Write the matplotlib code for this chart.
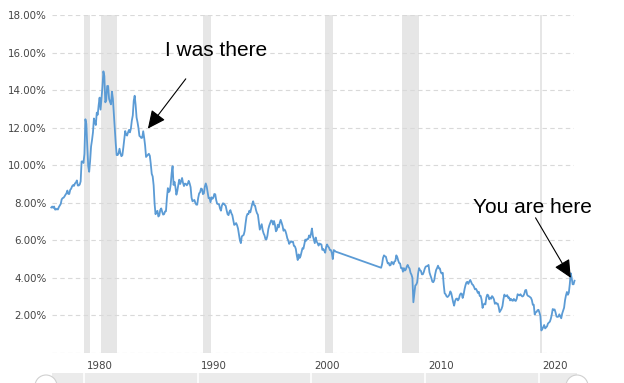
import numpy as np
import matplotlib
matplotlib.use("Agg")
import matplotlib.pyplot as plt
from matplotlib.patches import Rectangle, Ellipse
from matplotlib.lines import Line2D
from matplotlib.transforms import ScaledTranslation, blended_transform_factory

# -------------------------------- Configurations --------------------------------
W_PX, H_PX, DPI = 624, 383, 100
LINE_COLOR = "#5b9bd5"
BAND_COLOR = "#e6e6e6"
GRID_COLOR = "#d9d9d9"
TEXT_COLOR = "#444444"
# --------------------------------------------------------------------------------

# monthly 30-year treasury yield (%)
Y_1977_1979 = [  # Feb 1977 - Dec 1979
    7.75, 7.80, 7.73, 7.80, 7.64, 7.64, 7.68, 7.64, 7.77, 7.85, 7.94,
    8.18, 8.25, 8.27, 8.34, 8.43, 8.50, 8.65, 8.47, 8.47, 8.69, 8.75, 8.88,
    8.94, 8.90, 9.03, 9.08, 9.19, 8.92, 8.92, 8.97, 9.14, 10.20, 10.20, 10.12,
]
Y_1980S = [
    10.60, 12.45, 12.20, 11.00, 9.95, 9.65, 10.24, 11.00, 11.34, 11.75, 12.49, 12.29,
    12.14, 12.80, 12.69, 13.20, 13.60, 12.96, 13.59, 14.17, 15.00, 14.75, 13.35, 13.45,
    14.22, 14.22, 13.53, 13.37, 13.24, 13.92, 13.55, 12.77, 12.07, 11.17, 10.54, 10.54,
    10.63, 10.88, 10.63, 10.48, 10.53, 10.93, 11.40, 11.82, 11.63, 11.58, 11.75, 11.88,
    11.75, 11.95, 12.38, 12.65, 13.43, 13.70, 13.21, 12.54, 12.29, 11.98, 11.56, 11.52,
    11.45, 11.47, 11.81, 11.47, 11.05, 10.44, 10.50, 10.56, 10.61, 10.50, 10.06, 9.54,
    9.40, 8.93, 7.96, 7.39, 7.52, 7.57, 7.27, 7.33, 7.62, 7.70, 7.52, 7.37,
    7.39, 7.54, 7.55, 8.25, 8.78, 8.57, 8.64, 8.97, 9.59, 9.95, 8.95, 9.12,
    8.83, 8.43, 8.63, 8.95, 9.23, 9.00, 9.14, 9.32, 9.06, 8.89, 9.02, 9.01,
    8.93, 9.01, 9.17, 9.03, 8.83, 8.27, 8.08, 8.12, 8.15, 8.00, 7.90, 7.90,
]
Y_1990S = [
    8.26, 8.50, 8.56, 8.76, 8.73, 8.46, 8.50, 8.86, 9.03, 8.86, 8.54, 8.24,
    8.27, 8.03, 8.29, 8.21, 8.27, 8.47, 8.45, 8.14, 7.95, 7.93, 7.92, 7.70,
    7.58, 7.85, 7.97, 7.96, 7.89, 7.84, 7.60, 7.39, 7.34, 7.53, 7.61, 7.44,
    7.34, 7.09, 6.82, 6.85, 6.92, 6.81, 6.63, 6.32, 6.00, 5.85, 6.21, 6.25,
    6.29, 6.49, 6.91, 7.27, 7.41, 7.40, 7.58, 7.49, 7.71, 7.94, 8.08, 7.87,
    7.85, 7.61, 7.45, 7.36, 6.95, 6.57, 6.72, 6.86, 6.55, 6.37, 6.26, 6.06,
    6.05, 6.24, 6.60, 6.79, 6.93, 7.06, 7.03, 6.84, 7.03, 6.81, 6.48, 6.55,
    6.83, 6.69, 6.93, 7.09, 6.94, 6.77, 6.51, 6.58, 6.50, 6.33, 6.11, 5.99,
    5.81, 5.89, 5.95, 5.92, 5.93, 5.70, 5.68, 5.54, 5.20, 4.95, 5.25, 5.06,
    5.16, 5.37, 5.58, 5.55, 5.81, 6.04, 5.98, 6.07, 6.07, 6.26, 6.15, 6.35,
]
Y_2000_2002 = [  # Jan 2000 - Feb 2002, then the bond was suspended
    6.63, 6.23, 6.05, 5.85, 6.15, 5.93, 5.85, 5.72, 5.83, 5.80, 5.78, 5.49,
    5.54, 5.45, 5.34, 5.65, 5.78, 5.67, 5.61, 5.48, 5.48, 5.32, 5.00, 5.48,
    5.45, 5.40,
]
Y_2006_2009 = [  # Feb 2006 - Dec 2009
    4.54, 4.73, 5.06, 5.20, 5.15, 5.13, 4.93, 4.77, 4.80, 4.66, 4.68,
    4.85, 4.82, 4.72, 4.87, 4.90, 5.20, 5.11, 4.93, 4.79, 4.77, 4.52, 4.53,
    4.33, 4.52, 4.39, 4.44, 4.60, 4.69, 4.57, 4.50, 4.27, 4.17, 4.00, 2.70,
    3.13, 3.59, 3.64, 3.76, 4.23, 4.52, 4.41, 4.37, 4.19, 4.19, 4.31, 4.49,
]
Y_2010S = [
    4.60, 4.62, 4.64, 4.69, 4.29, 4.13, 3.99, 3.80, 3.77, 3.87, 4.19, 4.42,
    4.52, 4.65, 4.51, 4.50, 4.29, 4.23, 4.27, 3.65, 3.18, 3.13, 3.02, 2.98,
    3.03, 3.11, 3.28, 3.18, 2.93, 2.70, 2.52, 2.77, 2.88, 2.90, 2.80, 2.88,
    3.08, 3.17, 3.16, 2.93, 3.11, 3.40, 3.61, 3.76, 3.79, 3.68, 3.80, 3.89,
    3.77, 3.66, 3.62, 3.52, 3.39, 3.42, 3.33, 3.20, 3.26, 3.04, 3.04, 2.83,
    2.40, 2.57, 2.63, 2.59, 2.96, 3.11, 3.07, 2.86, 2.95, 2.89, 3.03, 2.97,
    2.86, 2.62, 2.68, 2.62, 2.63, 2.45, 2.18, 2.26, 2.35, 2.50, 2.86, 3.11,
    3.02, 3.03, 3.08, 2.94, 2.96, 2.80, 2.88, 2.80, 2.78, 2.88, 2.80, 2.77,
    2.88, 3.13, 3.09, 3.07, 3.13, 3.05, 3.01, 3.04, 3.15, 3.34, 3.36, 3.10,
    3.04, 3.02, 2.98, 2.94, 2.82, 2.57, 2.57, 2.05, 2.16, 2.19, 2.28, 2.30,
]
Y_2020S = [  # Jan 2020 - Feb 2023
    2.15, 1.97, 1.20, 1.27, 1.38, 1.49, 1.31, 1.36, 1.42, 1.57, 1.62, 1.67,
    1.82, 2.04, 2.34, 2.30, 2.32, 2.16, 1.94, 1.92, 1.94, 2.06, 1.94, 1.85,
    2.10, 2.25, 2.41, 2.81, 3.07, 3.25, 3.10, 3.21, 3.66, 4.25, 4.00, 3.66,
    3.66, 3.85,
]
# (first year, first month, values) for each block
BLOCKS = [
    (1977, 2, Y_1977_1979), (1980, 1, Y_1980S), (1990, 1, Y_1990S),
    (2000, 1, Y_2000_2002), (2006, 2, Y_2006_2009), (2010, 1, Y_2010S),
    (2020, 1, Y_2020S),
]

# NBER recessions as (start, end) in decimal years
RECESSIONS = [(1980.0, 1980.5), (1981.5, 1982.87), (1990.5, 1991.17),
              (2001.17, 2001.87), (2007.92, 2009.42), (2020.08, 2020.25)]

YEAR_TICKS = [1980, 1990, 2000, 2010, 2020]
Y_TICKS = [0, 2, 4, 6, 8, 10, 12, 14, 16, 18]
Y_LABELS = ["" if v == 0 else f"{v:.2f}%" for v in Y_TICKS]

# annotations: (text, text pos, arrow tail, arrow tip) in (year, %)
NOTES = [
    ("I was there", (1991.6, 16.1), (1988.95, 14.6), (1985.62, 11.95)),
    ("You are here", (2019.45, 7.75), (2019.7, 7.2), (2022.8, 4.0)),
]


def month_axis(year: int, month: int, n: int) -> np.ndarray:
    """Decimal-year positions (mid-month) for n consecutive months."""
    idx = np.arange(n) + (month - 1)
    return year + idx / 12 + 1 / 24


def fig_frac(x: float, y: float) -> tuple[float, float]:
    """Pixel position measured from the top-left -> figure fraction."""
    return x / W_PX, 1 - y / H_PX


def draw_navigator(fig, ax) -> None:
    x0, y0 = fig_frac(52, 383)
    x1, y1 = fig_frac(577, 373)
    fig.add_artist(Rectangle((x0, y0), x1 - x0, y1 - y0, transform=fig.transFigure,
                             facecolor="#ebebeb", edgecolor="none"))
    trans = blended_transform_factory(ax.transData, fig.transFigure)
    for yr in YEAR_TICKS:
        fig.add_artist(Line2D([yr, yr], [y0, y1], transform=trans,
                              color="white", lw=1.2))
    for cx in (46, 577):
        c = fig_frac(cx, 386)
        fig.add_artist(Ellipse(c, 22 / W_PX, 22 / H_PX, transform=fig.transFigure,
                               facecolor="white", edgecolor="#d0d0d0", lw=0.8))


def main() -> None:
    fig = plt.figure(figsize=(W_PX / DPI, H_PX / DPI), dpi=DPI)
    left, top = fig_frac(52, 15)
    right, bottom = fig_frac(574, 353)
    ax = fig.add_axes([left, bottom, right - left, top - bottom])

    for a, b in RECESSIONS:
        ax.axvspan(a, b, color=BAND_COLOR, lw=0, zorder=0)

    xs = np.concatenate([month_axis(y, m, len(v)) for y, m, v in BLOCKS])
    ys = np.concatenate([v for _, _, v in BLOCKS])
    ax.plot(xs, ys, color=LINE_COLOR, lw=1.3, zorder=3, clip_on=False)

    ax.set_xlim(1977.19, 2023.08)
    ax.set_ylim(0, 18)
    ax.set_yticks(Y_TICKS)
    ax.set_yticklabels(Y_LABELS)
    ax.set_xticks(YEAR_TICKS)
    ax.set_xticklabels([str(y) for y in YEAR_TICKS])
    ax.tick_params(axis="both", length=0, labelsize=7.4, labelcolor=TEXT_COLOR)
    ax.tick_params(axis="y", pad=3.6)
    ax.tick_params(axis="x", pad=6)
    shift = ScaledTranslation(3 / DPI, 0, fig.dpi_scale_trans)
    for lbl in ax.get_xticklabels():
        lbl.set_horizontalalignment("left")
        lbl.set_transform(lbl.get_transform() + shift)

    ax.grid(axis="y", color=GRID_COLOR, lw=0.8, linestyle=(0, (4, 3)))
    ax.set_axisbelow(True)
    for s in ax.spines.values():
        s.set_visible(False)

    for text, txt_pos, tail, tip in NOTES:
        ax.text(*txt_pos, text, fontsize=15, family="Liberation Sans",
                ha="center", va="center", color="black", zorder=5)
        ax.annotate("", xy=tip, xytext=tail, zorder=5,
                    arrowprops=dict(arrowstyle="-|>,head_length=1.1,head_width=0.52",
                                    mutation_scale=10, color="black", lw=0.8,
                                    shrinkA=0, shrinkB=0))

    draw_navigator(fig, ax)
    fig.savefig("out.png", dpi=DPI)
    plt.close(fig)


if __name__ == "__main__":
    main()
